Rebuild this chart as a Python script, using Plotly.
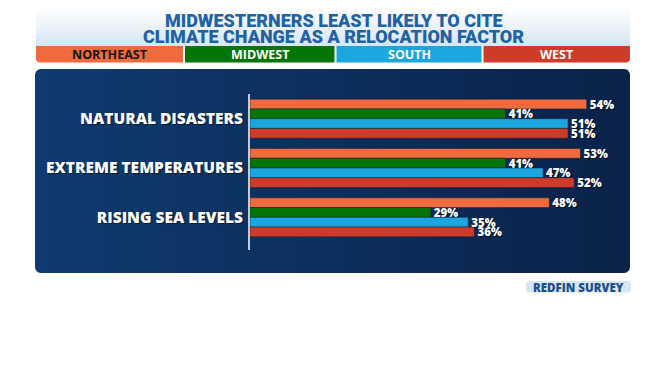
import numpy as np
import plotly.graph_objects as go

# ---------------- data ----------------
categories = ["NATURAL DISASTERS", "EXTREME TEMPERATURES", "RISING SEA LEVELS"]
regions = ["NORTHEAST", "MIDWEST", "SOUTH", "WEST"]
northeast = [54, 53, 48]
midwest = [41, 41, 29]
south = [51, 47, 35]
west = [51, 52, 36]
title_lines = ["MIDWESTERNERS LEAST LIKELY TO CITE",
               "CLIMATE CHANGE AS A RELOCATION FACTOR"]
source_label = "REDFIN SURVEY"

series = [northeast, midwest, south, west]
colors = ["#ef6a3d", "#047506", "#1ba6df", "#cf3b29"]
legend_text_colors = ["#151515", "white", "white", "white"]

W, H = 668, 376
FONT = "Open Sans"


def rounded_pts(x0, y0, x1, y1, r, corners=(True, True, True, True)):
    """polygon points (tl, tr, br, bl) in pixel coords (y down)"""
    xs, ys = [], []
    specs = [
        (x0 + r, y0 + r, np.pi, 1.5 * np.pi, corners[0], (x0, y0)),
        (x1 - r, y0 + r, 1.5 * np.pi, 2 * np.pi, corners[1], (x1, y0)),
        (x1 - r, y1 - r, 0, 0.5 * np.pi, corners[2], (x1, y1)),
        (x0 + r, y1 - r, 0.5 * np.pi, np.pi, corners[3], (x0, y1)),
    ]
    for cx, cy, a0, a1, use, pt in specs:
        if use:
            t = np.linspace(a0, a1, 8)
            xs += list(cx + r * np.cos(t))
            ys += list(cy + r * np.sin(t))
        else:
            xs.append(pt[0])
            ys.append(pt[1])
    xs.append(xs[0])
    ys.append(ys[0])
    return xs, ys


fig = go.Figure()

# header gradient (background layer, pixel coords)
hx, hy = rounded_pts(36, 8, 630, 46, 0.01, (False, False, False, False))
fig.add_trace(go.Scatter(
    x=hx, y=hy, mode="lines", fill="toself", line=dict(width=0),
    fillgradient=dict(type="vertical", start=8, stop=46,
                      colorscale=[[0, "#ffffff"], [1, "#d5e5f3"]]),
    hoverinfo="skip", showlegend=False, xaxis="x", yaxis="y"))

# panel with horizontal gradient
px, py = rounded_pts(35, 69, 630, 273, 6)
fig.add_trace(go.Scatter(
    x=px, y=py, mode="lines", fill="toself", line=dict(width=0),
    fillgradient=dict(type="horizontal", start=35, stop=630,
                      colorscale=[[0, "#0e3b70"], [1, "#0a2249"]]),
    hoverinfo="skip", showlegend=False, xaxis="x", yaxis="y"))

# bars
for name, vals, col in zip(regions, series, colors):
    fig.add_trace(go.Bar(
        y=categories, x=vals, name=name, orientation="h",
        marker=dict(color=col, line=dict(color="rgba(10,30,60,0.6)", width=0.8)),
        texttemplate="%{x}%", textposition="outside", cliponaxis=False,
        constraintext="none",
        textfont=dict(color="white", size=11.5, family=FONT, weight=800,
                      shadow="1px 1px 1px rgba(0,0,0,0.6)"),
        xaxis="x2", yaxis="y2", showlegend=False, hoverinfo="skip"))

shapes = []
annotations = []

# legend strip
seg = [(36, 183), (185, 334.5), (336.5, 481.5), (483.5, 630)]
for i, ((x0, x1), name) in enumerate(zip(seg, regions)):
    corners = (False, False, i == 3, i == 0)
    xs, ys = rounded_pts(x0, 46, x1, 62.5, 4, corners)
    path = "M " + " L ".join(f"{a:.2f},{b:.2f}" for a, b in zip(xs, ys)) + " Z"
    shapes.append(dict(type="path", path=path, xref="x", yref="y",
                       fillcolor=colors[i], line=dict(width=0), layer="above"))
    annotations.append(dict(x=(x0 + x1) / 2, y=54.5, xref="x", yref="y",
                            text=name, showarrow=False,
                            font=dict(size=12.5, color=legend_text_colors[i],
                                      family=FONT, weight=700)))

# title
for k, line in enumerate(title_lines):
    annotations.append(dict(x=333.5, y=20.5 + k * 15.5, xref="x", yref="y", text=line,
                            showarrow=False,
                            font=dict(size=18, color="#1f62a5", family="Roboto",
                                      weight=900)))

# axis line
shapes.append(dict(type="line", x0=249, x1=249, y0=94, y1=250, xref="x", yref="y",
                   line=dict(color="white", width=1.5), layer="above"))

# source badge
bx, by = rounded_pts(526, 281, 631, 292.5, 3)
path = "M " + " L ".join(f"{a:.2f},{b:.2f}" for a, b in zip(bx, by)) + " Z"
shapes.append(dict(type="path", path=path, xref="x", yref="y",
                   fillcolor="#d6e6f3", line=dict(width=0), layer="above"))
annotations.append(dict(x=578.5, y=287, xref="x", yref="y", text=source_label,
                        showarrow=False,
                        font=dict(size=11.5, color="#1c4f8c", family=FONT, weight=800)))

fig.update_layout(
    width=W, height=H, margin=dict(l=0, r=0, t=0, b=0),
    paper_bgcolor="white", plot_bgcolor="rgba(0,0,0,0)",
    barmode="group", bargap=0.21, bargroupgap=0,
    shapes=shapes, annotations=annotations,
    xaxis=dict(domain=[0, 1], range=[0, W], visible=False, fixedrange=True),
    yaxis=dict(domain=[0, 1], range=[H, 0], visible=False, fixedrange=True),
    xaxis2=dict(domain=[250 / W, 630 / W], range=[0, 380 / 6.235], visible=False,
                anchor="y2", fixedrange=True),
    yaxis2=dict(domain=[1 - 242 / H, 1 - 94 / H], anchor="x2", type="category",
                categoryorder="array", categoryarray=categories,
                range=[2.5, -0.5], showgrid=False, zeroline=False, showline=False,
                ticks="", ticklabelstandoff=6,
                tickfont=dict(color="white", size=15.5, family=FONT, weight=800,
                              shadow="1px 1px 1px rgba(0,0,0,0.5)"),
                fixedrange=True),
)

fig.write_html("out.html", config={"displayModeBar": False},
               post_script="document.body.style.margin='0';")
